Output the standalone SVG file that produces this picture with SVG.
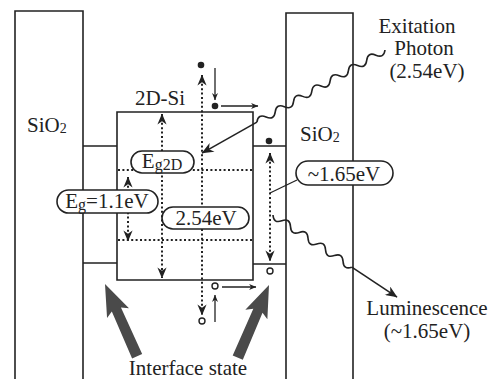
<svg xmlns="http://www.w3.org/2000/svg" width="498" height="379" viewBox="0 0 498 379">
<style>
.ln{fill:none;stroke:#222;stroke-width:1.6}
.dot{fill:none;stroke:#222;stroke-width:2;stroke-dasharray:2 2.4}
.thin{fill:none;stroke:#222;stroke-width:1.3}
.pill{fill:#fff;stroke:#222;stroke-width:1.6}
.t{font-family:"Liberation Serif","Times New Roman",serif;font-size:21px;fill:#222}
.c{text-anchor:middle}
.big{fill:#4a4a4a}
</style>
<defs>
<marker id="ah" viewBox="0 0 12 10" refX="11.5" refY="5" markerWidth="11" markerHeight="10" markerUnits="userSpaceOnUse" orient="auto-start-reverse">
<path d="M0,0 L12,5 L0,10 L3.5,5 Z" fill="#222"/>
</marker>
<marker id="as" viewBox="0 0 12 10" refX="11.5" refY="5" markerWidth="8" markerHeight="6" markerUnits="userSpaceOnUse" orient="auto">
<path d="M0,0 L12,5 L0,10 L3.5,5 Z" fill="#222"/>
</marker>
<marker id="ap" viewBox="0 0 12 10" refX="11.5" refY="5" markerWidth="13" markerHeight="10" markerUnits="userSpaceOnUse" orient="auto">
<path d="M0,0 L12,5 L0,10 L3.5,5 Z" fill="#222"/>
</marker>
<polygon id="bigArrow" points="0,0 12,32 5,28 5.5,79 -5.5,79 -5,28 -12,32"/>
</defs>

<g id="sio2-left">
<path class="ln" d="M15,379 V11 H83 V379"/>
<text class="t" x="27" y="132">SiO<tspan font-size="14" dy="1">2</tspan></text>
</g>
<g id="sio2-right">
<path class="ln" d="M286,379 V13 H353 V379"/>
<text class="t" x="300" y="141">SiO<tspan font-size="14" dy="1">2</tspan></text>
</g>
<g id="si-left">
<path class="ln" d="M83,146 H117 M83,263 H117"/>
</g>
<g id="si-right">
<path class="ln" d="M253,146 H286 M253,264 H286"/>
</g>
<g id="si-2d">
<path class="ln" d="M117,112 H253 V280 H117 Z"/>
<text class="t c" x="160" y="105">2D-Si</text>
</g>

<g id="connectors">
<path class="dot" d="M118,170 H253 M118,240 H253"/>
<line class="dot" x1="162" y1="114" x2="162" y2="278" marker-start="url(#ah)" marker-end="url(#ah)"/>
<line class="dot" x1="202" y1="75" x2="202" y2="315" marker-start="url(#ah)" marker-end="url(#ah)"/>
<line class="dot" x1="128" y1="177" x2="128" y2="241" marker-start="url(#ah)" marker-end="url(#ah)"/>
<line class="dot" x1="270" y1="153" x2="270" y2="261" marker-start="url(#ah)" marker-end="url(#ah)"/>
<line class="thin" x1="215" y1="68" x2="215" y2="100" marker-end="url(#as)"/>
<line class="thin" x1="221" y1="106" x2="258" y2="106" marker-end="url(#as)"/>
<line class="thin" x1="222" y1="287" x2="256" y2="287" marker-end="url(#as)"/>
<line class="thin" x1="215" y1="322" x2="215" y2="295" marker-end="url(#as)"/>
<line class="thin" x1="270" y1="193" x2="297" y2="180"/>
<g transform="translate(385,50) rotate(150.6)">
<path class="ln" d="M0,0 q5.25,-7 10.5,0 t10.5,0 t10.5,0 t10.5,0 t10.5,0 t10.5,0 t10.5,0 t10.5,0 t10.5,0 t10.5,0 t10.5,0 t10.5,0 t10.5,0 t10.5,0"/>
<line class="ln" x1="147" y1="0" x2="210" y2="0" marker-end="url(#ap)"/>
</g>
<g transform="translate(273,215) rotate(33.5)">
<path class="ln" d="M0,0 q5.25,7 10.5,0 t10.5,0 t10.5,0 t10.5,0 t10.5,0 t10.5,0 t10.5,0 t10.5,0 t10.5,0"/>
<line class="ln" x1="94.5" y1="0" x2="148.7" y2="0" marker-end="url(#ap)"/>
</g>
<use href="#bigArrow" class="big" transform="translate(105,284) rotate(-24)"/>
<use href="#bigArrow" class="big" transform="translate(269,285) rotate(23.3)"/>
</g>

<g id="carriers">
<circle cx="201" cy="65" r="3.3" fill="#222"/>
<circle cx="215" cy="106" r="3.3" fill="#222"/>
<circle cx="269" cy="141" r="3.3" fill="#222"/>
<circle cx="215" cy="286" r="3" fill="#fff" stroke="#222" stroke-width="1.4"/>
<circle cx="202" cy="321" r="3" fill="#fff" stroke="#222" stroke-width="1.4"/>
<circle cx="270" cy="271" r="3" fill="#fff" stroke="#222" stroke-width="1.4"/>
</g>

<g id="label-eg2d">
<rect class="pill" x="131" y="151" width="63" height="22" rx="11"/>
<text class="t c" x="162" y="168">E<tspan font-size="16" dy="2">g2D</tspan></text>
</g>
<g id="label-eg">
<rect class="pill" x="57" y="190" width="101" height="23" rx="11.5"/>
<text class="t c" x="107" y="208">E<tspan font-size="16" dy="2">g</tspan><tspan dy="-2">=1.1eV</tspan></text>
</g>
<g id="label-254">
<rect class="pill" x="162" y="207" width="87" height="22" rx="11"/>
<text class="t c" x="206" y="225">2.54eV</text>
</g>
<g id="label-165">
<rect class="pill" x="296" y="161" width="97" height="24" rx="12"/>
<text class="t c" x="344" y="181">~1.65eV</text>
</g>

<g id="label-photon">
<text class="t c" x="417" y="33">Exitation</text>
<text class="t c" x="424" y="55">Photon</text>
<text class="t c" x="427" y="78">(2.54eV)</text>
</g>
<g id="label-lum">
<text class="t c" x="427" y="315">Luminescence</text>
<text class="t c" x="427" y="338">(~1.65eV)</text>
</g>
<g id="label-interface">
<text class="t c" x="188" y="375">Interface state</text>
</g>
</svg>
